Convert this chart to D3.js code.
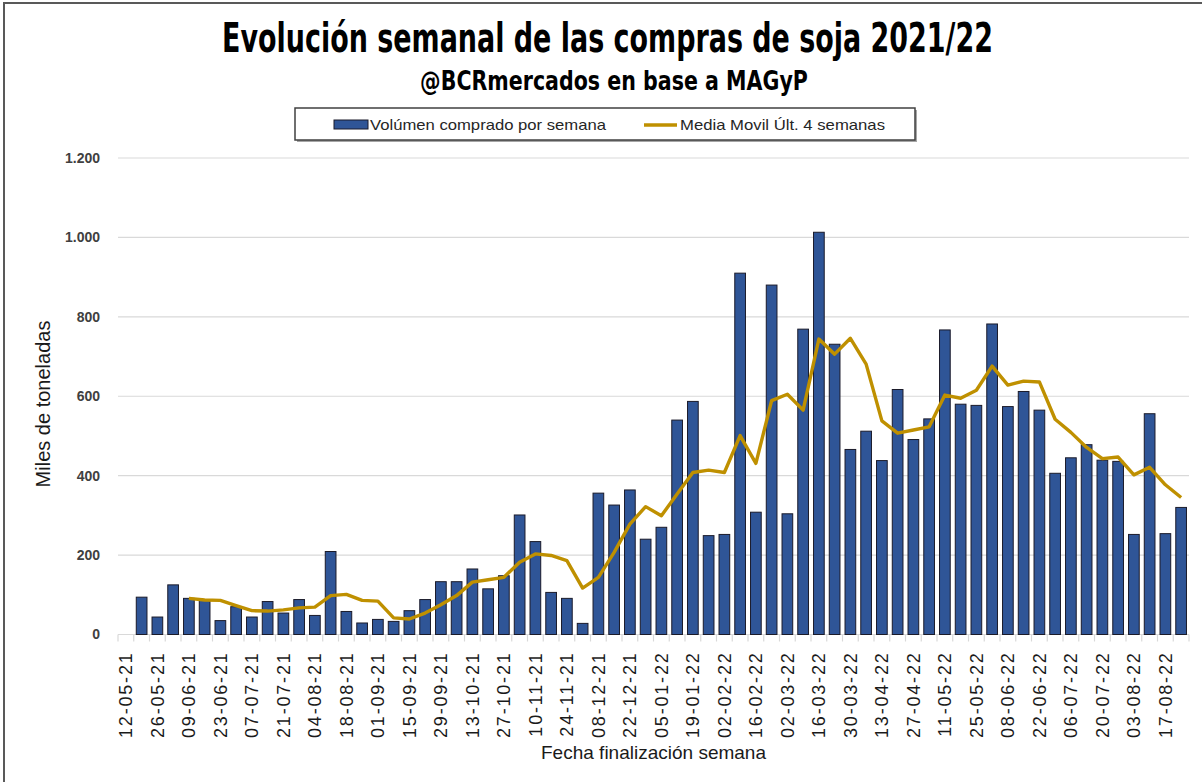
<!DOCTYPE html>
<html>
<head>
<meta charset="utf-8">
<script src="https://cdn.jsdelivr.net/npm/d3@7"></script>
<style>
    body { margin: 0; background: #fff; }
    svg { display: block; }
</style>
</head>
<body>
<div class="chart-wrapper"><svg></svg></div>
<script>
const weeks = [
    '12-05-21', '19-05-21', '26-05-21', '02-06-21', '09-06-21', '16-06-21', '23-06-21', '30-06-21',
    '07-07-21', '14-07-21', '21-07-21', '28-07-21', '04-08-21', '11-08-21', '18-08-21', '25-08-21',
    '01-09-21', '08-09-21', '15-09-21', '22-09-21', '29-09-21', '06-10-21', '13-10-21', '20-10-21',
    '27-10-21', '03-11-21', '10-11-21', '17-11-21', '24-11-21', '01-12-21', '08-12-21', '15-12-21',
    '22-12-21', '29-12-21', '05-01-22', '12-01-22', '19-01-22', '26-01-22', '02-02-22', '09-02-22',
    '16-02-22', '23-02-22', '02-03-22', '09-03-22', '16-03-22', '23-03-22', '30-03-22', '06-04-22',
    '13-04-22', '20-04-22', '27-04-22', '04-05-22', '11-05-22', '18-05-22', '25-05-22', '01-06-22',
    '08-06-22', '15-06-22', '22-06-22', '29-06-22', '06-07-22', '13-07-22', '20-07-22', '27-07-22',
    '03-08-22', '10-08-22', '17-08-22', '24-08-22'
];

// volumen comprado por semana (miles de t)
const volumen = [
    null, 94, 44, 125, 91, 86, 35, 70,
    44, 83, 54, 88, 48, 209, 58, 29,
    38, 33, 60, 88, 133, 133, 165, 115,
    148, 301, 234, 106, 91, 28, 356, 326,
    364, 240, 270, 540, 587, 249, 252, 910,
    308, 880, 304, 769, 1013, 731, 466, 512,
    438, 617, 491, 543, 767, 580, 577, 782,
    574, 612, 565, 406, 445, 478, 439, 436,
    252, 556, 254, 320
];

// media movil ult. 4 semanas
const mediaMovil = [
    null, null, null, null, 91, 87, 86, 73,
    60, 59, 62, 67, 69, 98, 101, 86,
    84, 42, 39, 54, 75, 98, 132, 138,
    144, 182, 203, 199, 186, 117, 144, 207,
    278, 322, 299, 354, 408, 414, 408, 501,
    431, 589, 605, 565, 744, 706, 746, 681,
    538, 507, 515, 523, 603, 595, 615, 676,
    628, 638, 636, 542, 509, 471, 443, 447,
    402, 421, 377, 345
];

const yTicks = [0, 200, 400, 600, 800, 1000, 1200];

const title = 'Evolución semanal de las compras de soja 2021/22';
const subtitle = '@BCRmercados en base a MAGyP';
const serieBarras = 'Volúmen comprado por semana';
const serieLinea = 'Media Movil Últ. 4 semanas';

const width = 1202;
const height = 782;
const plot = { left: 118, right: 1189, top: 158, bottom: 634.5 };
const barColor = '#2f5597';
const lineColor = '#bf9000';
const fontFamily = "'Liberation Sans', Arial, sans-serif";
const narrowFamily = "'Liberation Sans Narrow', 'DejaVu Sans Condensed', sans-serif";

const svg = d3.select('svg')
    .attr('width', width)
    .attr('height', height);

svg.append('rect')
    .attr('width', width)
    .attr('height', height)
    .attr('fill', '#fff');

// outer frame (only left and top visible in the crop)
svg.append('path')
    .attr('d', 'M4,' + height + 'V3H' + width)
    .attr('fill', 'none')
    .attr('stroke', '#595959')
    .attr('stroke-width', 2);

const xScale = d3.scaleBand()
    .domain(weeks)
    .range([plot.left, plot.right])
    .paddingInner(0.32)
    .paddingOuter(0.16);

const yScale = d3.scaleLinear()
    .domain([0, 1200])
    .range([plot.bottom, plot.top]);

// gridlines
svg.append('g')
    .attr('class', 'grid')
    .selectAll('line')
    .data(yTicks)
    .enter()
    .append('line')
    .attr('x1', plot.left)
    .attr('x2', plot.right)
    .attr('y1', d => yScale(d))
    .attr('y2', d => yScale(d))
    .attr('stroke', '#d9d9d9')
    .attr('stroke-width', 1.2);

// y axis labels
const yAxis = d3.axisLeft(yScale)
    .tickValues(yTicks)
    .tickSize(0)
    .tickPadding(18)
    .tickFormat(d => d3.format(',')(d).replace(/,/g, '.'));

const yG = svg.append('g')
    .attr('transform', 'translate(' + plot.left + ',0)')
    .call(yAxis);
yG.select('.domain').remove();
yG.selectAll('text')
    .attr('font-family', fontFamily)
    .attr('font-size', 14)
    .attr('font-weight', 'bold')
    .attr('fill', '#404040');

// category ticks at the band edges
const step = xScale.step();
svg.append('g')
    .selectAll('line')
    .data(weeks.concat(['end']))
    .enter()
    .append('line')
    .attr('x1', (d, i) => plot.left + i * step)
    .attr('x2', (d, i) => plot.left + i * step)
    .attr('y1', plot.bottom)
    .attr('y2', plot.bottom + 7)
    .attr('stroke', '#d9d9d9')
    .attr('stroke-width', 1.2);

svg.append('line')
    .attr('x1', plot.left)
    .attr('x2', plot.right)
    .attr('y1', plot.bottom)
    .attr('y2', plot.bottom)
    .attr('stroke', '#d9d9d9')
    .attr('stroke-width', 1.2);

// bars
svg.append('g')
    .selectAll('rect')
    .data(weeks.map((w, i) => ({ week: w, value: volumen[i] })).filter(d => d.value !== null))
    .enter()
    .append('rect')
    .attr('class', 'bar')
    .attr('x', d => xScale(d.week))
    .attr('width', xScale.bandwidth())
    .attr('y', d => yScale(d.value))
    .attr('height', d => plot.bottom - yScale(d.value))
    .attr('fill', barColor)
    .attr('stroke', '#1b1b2a')
    .attr('stroke-width', 1);

// moving average line
const line = d3.line()
    .defined(d => d.value !== null)
    .x(d => xScale(d.week) + xScale.bandwidth() / 2)
    .y(d => yScale(d.value));

svg.append('path')
    .datum(weeks.map((w, i) => ({ week: w, value: mediaMovil[i] })))
    .attr('d', line)
    .attr('fill', 'none')
    .attr('stroke', lineColor)
    .attr('stroke-width', 3.4)
    .attr('stroke-linejoin', 'round');

// x labels, every second week
const xAxis = d3.axisBottom(xScale)
    .tickValues(weeks.filter((d, i) => i % 2 === 0))
    .tickSize(0)
    .tickPadding(0);

const xG = svg.append('g')
    .attr('transform', 'translate(0,' + plot.bottom + ')')
    .call(xAxis);
xG.select('.domain').remove();
xG.selectAll('text')
    .attr('font-family', fontFamily)
    .attr('font-size', 18)
    .attr('letter-spacing', 1.8)
    .attr('fill', '#1a1a1a')
    .attr('text-anchor', 'end')
    .attr('transform', 'rotate(-90)')
    .attr('x', -17)
    .attr('y', 0)
    .attr('dy', '0.36em');

// axis titles
svg.append('text')
    .attr('transform', 'translate(50,' + 404 + ') rotate(-90)')
    .attr('text-anchor', 'middle')
    .attr('font-family', fontFamily)
    .attr('font-size', 20)
    .attr('fill', '#1a1a1a')
    .text('Miles de toneladas');

svg.append('text')
    .attr('x', (plot.left + plot.right) / 2)
    .attr('y', 759)
    .attr('text-anchor', 'middle')
    .attr('font-family', fontFamily)
    .attr('font-size', 19)
    .attr('fill', '#1a1a1a')
    .text('Fecha finalización semana');

// titles: condensed bold, squeezed to the reference width with a scale
const fitText = (txt, cx, y, size, targetWidth) => {
    const t = svg.append('text')
        .attr('text-anchor', 'middle')
        .attr('font-family', narrowFamily)
        .attr('font-weight', 'bold')
        .attr('font-size', size)
        .attr('fill', '#000')
        .text(txt);
    const natural = t.node().getComputedTextLength();
    const k = targetWidth / natural;
    t.attr('transform', 'translate(' + cx + ',' + y + ') scale(' + k + ',1)');
    return t;
};

fitText(title, 607.5, 52, 40, 771);
fitText(subtitle, 614, 90, 27, 388);

// legend
const legend = svg.append('g').attr('class', 'legend');

legend.append('rect')
    .attr('x', 297)
    .attr('y', 110)
    .attr('width', 620)
    .attr('height', 32)
    .attr('fill', '#a6a6a6');

legend.append('rect')
    .attr('x', 295)
    .attr('y', 108)
    .attr('width', 620)
    .attr('height', 32)
    .attr('fill', '#fff')
    .attr('stroke', '#404040')
    .attr('stroke-width', 1.5);

legend.append('rect')
    .attr('x', 334)
    .attr('y', 120)
    .attr('width', 34)
    .attr('height', 9)
    .attr('fill', barColor)
    .attr('stroke', '#1b1b2a')
    .attr('stroke-width', 1);

legend.append('text')
    .attr('x', 370)
    .attr('y', 130)
    .attr('textLength', 236)
    .attr('lengthAdjust', 'spacingAndGlyphs')
    .attr('font-family', fontFamily)
    .attr('font-size', 15)
    .attr('fill', '#262626')
    .text(serieBarras);

legend.append('line')
    .attr('x1', 644)
    .attr('x2', 677)
    .attr('y1', 125)
    .attr('y2', 125)
    .attr('stroke', lineColor)
    .attr('stroke-width', 3.4);

legend.append('text')
    .attr('x', 680)
    .attr('y', 130)
    .attr('textLength', 205)
    .attr('lengthAdjust', 'spacingAndGlyphs')
    .attr('font-family', fontFamily)
    .attr('font-size', 15)
    .attr('fill', '#262626')
    .text(serieLinea);
</script>
</body>
</html>
